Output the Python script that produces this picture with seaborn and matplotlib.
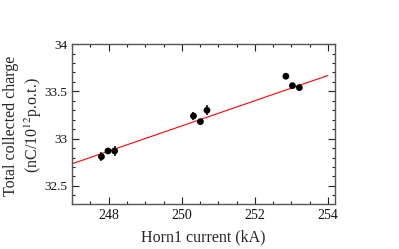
import numpy as np
import pandas as pd
import matplotlib
matplotlib.use('Agg')
import matplotlib.pyplot as plt
import seaborn as sns
from matplotlib.ticker import MultipleLocator

# Data
horn_current = [247.80, 247.98, 248.16, 250.32, 250.51, 250.69, 252.85, 253.03, 253.22]
charge = [32.81, 32.87, 32.87, 33.24, 33.18, 33.30, 33.66, 33.56, 33.54]
charge_err = [0.05, 0.03, 0.055, 0.04, 0.025, 0.055, 0.02, 0.02, 0.02]

# linear fit line as drawn
fit_slope = 0.1332
fit_intercept = 32.735 - 0.1332 * 247.0
fit_range = [247.0, 254.0]

df = pd.DataFrame({'current': horn_current, 'charge': charge, 'err': charge_err})

sns.set_style('ticks')
plt.rcParams['font.family'] = ['Liberation Serif', 'DejaVu Serif']
plt.rcParams['mathtext.fontset'] = 'stix'

fig = plt.figure(figsize=(3.99, 2.49), dpi=100)
ax = fig.add_axes([0.181, 0.181, 0.659, 0.642])

xf = np.array(fit_range)
ax.plot(xf, fit_slope * xf + fit_intercept, color='red', lw=0.8, zorder=1)

ax.errorbar(df['current'], df['charge'], yerr=df['err'], fmt='none',
            ecolor='black', elinewidth=1.1, capsize=0, zorder=2)
sns.scatterplot(data=df, x='current', y='charge', ax=ax, color='black',
                s=24, edgecolor='none', zorder=3, legend=False)

ax.set_xlim(247.0, 254.2)
ax.set_ylim(32.31, 34.0)
ax.xaxis.set_major_locator(MultipleLocator(2))
ax.xaxis.set_minor_locator(MultipleLocator(0.5))
ax.yaxis.set_major_locator(MultipleLocator(0.5))
ax.yaxis.set_minor_locator(MultipleLocator(0.1))
ax.set_yticks([32.5, 33, 33.5, 34])
ax.set_yticklabels(['32.5', '33', '33.5', '34'])

ax.tick_params(which='both', direction='in', top=True, right=True,
               labelsize=10, width=0.8, color='#222222', labelcolor='#111111')
ax.tick_params(which='major', length=5)
ax.tick_params(which='minor', length=2.5)
ax.tick_params(axis='x', pad=4)
ax.tick_params(axis='y', labelsize=9.5, pad=3.5)
for sp in ax.spines.values():
    sp.set_color('#555555')
    sp.set_linewidth(1.0)

ax.set_xlabel('Horn1 current (kA)', fontsize=11.5, labelpad=5)
ax.set_ylabel('Total collected charge\n(nC/10$^{12}$p.o.t.)', fontsize=11.5,
              linespacing=1.25)
ax.yaxis.set_label_coords(-0.106, 0.49)

fig.savefig('out.png', dpi=100)
